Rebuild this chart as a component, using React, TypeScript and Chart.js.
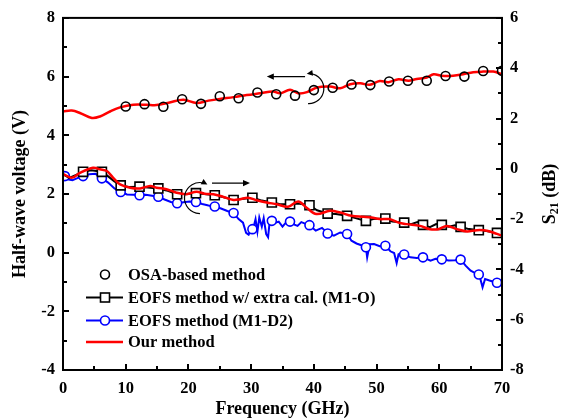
import React, { useEffect, useRef } from 'react';
import { Chart, registerables } from 'chart.js';
Chart.register(...registerables);

const FONT = '"Liberation Serif", "Times New Roman", serif';

// ---- Half-wave voltage (left axis, V) ----
const osaFreq = [10, 13, 16, 19, 22, 25, 28, 31, 34, 37, 40, 43, 46, 49, 52, 55, 58, 61, 64, 67, 70];
const osaVolt = [4.98, 5.06, 4.97, 5.23, 5.07, 5.33, 5.26, 5.46, 5.40, 5.35, 5.54, 5.62, 5.73, 5.71, 5.83, 5.86, 5.86, 6.02, 6.00, 6.19, 6.20];

const ourVFreq = [0, 1.4, 2.7, 4.6, 5.9, 7.5, 9.1, 11.2, 13.3, 14.9, 17, 19.2, 21.3, 23.2, 25, 27.2, 29.3, 31.4, 33.5, 34.6, 36.2, 37.5, 38.9, 40.5, 42.6, 44.2, 45.8, 47.4, 48.9, 50.5, 51.9, 53.5, 55.1, 56.4, 58, 59.1, 60.4, 62.2, 63.8, 65.4, 67, 68.6, 70];
const ourVVolt = [4.81, 4.84, 4.76, 4.59, 4.64, 4.81, 4.95, 5.04, 5.04, 5.03, 5.12, 5.21, 5.10, 5.18, 5.24, 5.30, 5.37, 5.43, 5.49, 5.43, 5.55, 5.43, 5.47, 5.63, 5.66, 5.60, 5.74, 5.77, 5.72, 5.85, 5.81, 5.91, 5.86, 5.92, 5.97, 6.08, 6.03, 6.03, 6.08, 6.15, 6.17, 6.17, 6.08];

// ---- S21 (right axis, dB) ----
const m1oMarkFreq = [3.2, 6.2, 9.2, 12.2, 15.2, 18.2, 21.2, 24.2, 27.2, 30.2, 33.3, 36.2, 39.3, 42.2, 45.3, 48.3, 51.4, 54.4, 57.4, 60.4, 63.4, 66.3, 69.2];
const m1oMarkS21 = [-0.12, -0.12, -0.66, -0.71, -0.78, -1.01, -0.97, -1.05, -1.24, -1.15, -1.34, -1.41, -1.45, -1.78, -1.87, -2.07, -1.98, -2.14, -2.23, -2.23, -2.31, -2.44, -2.55];

const m1oFreq = [0, 1, 2, 3.2, 4.5, 6.2, 7.2, 8.2, 9.2, 10.5, 12.2, 13.5, 15.2, 16.5, 18.2, 19.5, 21.2, 22.5, 24.2, 25.5, 27.2, 28.5, 30.2, 31.5, 33.3, 34.5, 36.2, 37.5, 39.3, 40.5, 42.2, 43.5, 45.3, 46.5, 48.3, 49.5, 51.4, 52.5, 54.4, 55.5, 56.5, 57.4, 58.5, 59.5, 60.4, 61.5, 62.5, 63.4, 64.5, 66.3, 67.5, 69.2, 70];
const m1oS21 = [-0.22, -0.36, -0.25, -0.12, -0.06, -0.12, -0.30, -0.50, -0.66, -0.72, -0.71, -0.74, -0.78, -0.86, -1.01, -1.00, -0.97, -1.00, -1.05, -1.12, -1.24, -1.20, -1.15, -1.25, -1.34, -1.40, -1.41, -1.38, -1.45, -1.65, -1.78, -1.80, -1.87, -1.95, -2.07, -2.00, -1.98, -2.10, -2.14, -2.20, -2.12, -2.23, -2.32, -2.20, -2.23, -2.30, -2.25, -2.31, -2.38, -2.44, -2.47, -2.55, -2.62];

const d2MarkFreq = [0.3, 3.2, 6.2, 9.2, 12.2, 15.2, 18.2, 21.2, 24.2, 27.2, 30.2, 33.3, 36.2, 39.3, 42.2, 45.3, 48.3, 51.4, 54.4, 57.4, 60.4, 63.4, 66.3, 69.2];
const d2MarkS21 = [-0.29, -0.29, -0.38, -0.92, -1.05, -1.11, -1.37, -1.32, -1.50, -1.76, -2.40, -2.07, -2.10, -2.24, -2.57, -2.59, -3.12, -3.06, -3.41, -3.52, -3.60, -3.61, -4.20, -4.53];

const d2Freq = [0, 0.7, 1.5, 2.5, 3.2, 4.2, 5.2, 6.2, 7.2, 8.2, 9.2, 10.2, 11.2, 12.2, 13.2, 14.2, 15.2, 16.2, 17.2, 18.2, 19.2, 20.2, 21.2, 22.2, 23.2, 24.2, 25.2, 26.2, 27.2, 28.0, 28.7, 29.2, 29.6, 30.0, 30.3, 30.7, 31.0, 31.3, 31.7, 32.0, 32.4, 32.7, 33.0, 33.3, 33.8, 34.4, 35.0, 35.6, 36.2, 36.9, 37.4, 38.0, 38.6, 39.3, 40.3, 41.3, 42.2, 43.2, 44.2, 45.3, 46.0, 46.8, 47.8, 48.3, 48.5, 48.9, 49.6, 50.5, 51.4, 52.2, 52.8, 53.2, 53.5, 54.0, 54.4, 55.4, 56.4, 57.4, 58.6, 59.4, 60.4, 61.5, 62.5, 63.4, 64.2, 65.0, 66.0, 66.5, 66.9, 67.3, 68.0, 69.2, 70];
const d2S21 = [-0.30, -0.42, -0.45, -0.35, -0.29, -0.22, -0.20, -0.38, -0.55, -0.78, -0.92, -1.02, -1.03, -1.05, -1.03, -1.07, -1.11, -1.22, -1.32, -1.37, -1.33, -1.30, -1.32, -1.40, -1.46, -1.50, -1.58, -1.68, -1.76, -2.00, -2.14, -2.55, -2.62, -2.40, -2.40, -2.00, -2.50, -1.94, -2.30, -1.96, -2.60, -2.72, -2.00, -2.07, -2.15, -2.10, -2.30, -2.12, -2.10, -2.22, -2.27, -2.12, -2.18, -2.24, -2.46, -2.35, -2.57, -2.66, -2.53, -2.59, -2.86, -2.97, -3.06, -3.12, -3.52, -3.00, -2.99, -3.08, -3.06, -3.28, -3.35, -3.75, -3.40, -3.35, -3.41, -3.52, -3.55, -3.52, -3.65, -3.58, -3.60, -3.65, -3.64, -3.61, -3.85, -4.05, -4.18, -4.33, -4.71, -4.38, -4.44, -4.53, -4.60];

const ourSFreq = [0, 1.4, 2.7, 4.8, 5.9, 7, 8, 9.1, 10.7, 12.3, 13.9, 14.9, 16.5, 18.1, 19.7, 21.3, 22.6, 24, 25.6, 27.2, 28.2, 29.5, 30.9, 32.5, 34.1, 35.9, 37.5, 38.9, 40.4, 42.6, 44.2, 46, 47.9, 49.2, 50.5, 52, 53.5, 54.8, 56.9, 58.5, 59.8, 61.2, 62.8, 64.4, 66, 67.6, 69.2, 70];
const ourSS21 = [-0.20, -0.36, -0.16, 0.04, -0.02, -0.09, -0.36, -0.62, -0.75, -0.78, -0.68, -0.75, -0.81, -0.95, -1.01, -0.91, -0.99, -1.01, -1.12, -1.24, -1.21, -1.15, -1.25, -1.34, -1.41, -1.51, -1.30, -1.56, -1.80, -1.67, -1.74, -1.87, -1.91, -1.94, -2.00, -2.00, -2.14, -2.20, -2.27, -2.40, -2.40, -2.27, -2.40, -2.49, -2.44, -2.46, -2.59, -2.66];

const xTicks = [0, 10, 20, 30, 40, 50, 60, 70];
const legendLabels = ['OSA-based method', 'EOFS method w/ extra cal. (M1-O)', 'EOFS method (M1-D2)', 'Our method'];
const xTitle = 'Frequency (GHz)';
const yLeftTitle = 'Half-wave voltage (V)';

const RED = '#ff0000';
const BLUE = '#0000ff';

const pts = (xs: number[], ys: number[]) => xs.map((x, i) => ({ x, y: ys[i] }));

function arrowHead(ctx: CanvasRenderingContext2D, x: number, y: number, ang: number, len = 7, half = 3.2) {
  ctx.save();
  ctx.translate(x, y);
  ctx.rotate(ang);
  ctx.beginPath();
  ctx.moveTo(0, 0);
  ctx.lineTo(-len, -half);
  ctx.lineTo(-len, half);
  ctx.closePath();
  ctx.fill();
  ctx.restore();
}

const overlay = {
  id: 'overlay',
  afterDraw(chart: any) {
    const { ctx, chartArea: a, scales } = chart;
    const sx = scales.x, yV = scales.yV, yS = scales.yS;
    ctx.save();
    ctx.strokeStyle = '#000';
    ctx.fillStyle = '#000';
    // frame
    ctx.lineWidth = 2;
    ctx.strokeRect(a.left, a.top, a.right - a.left, a.bottom - a.top);
    // inward ticks
    ctx.lineWidth = 2;
    ctx.beginPath();
    for (let v = 0; v <= 70; v += 5) {
      const p = Math.round(sx.getPixelForValue(v));
      const l = v % 10 === 0 ? 6 : 4;
      ctx.moveTo(p, a.bottom);
      ctx.lineTo(p, a.bottom - l);
    }
    for (let v = -4; v <= 8; v += 1) {
      const p = Math.round(yV.getPixelForValue(v));
      const l = v % 2 === 0 ? 6 : 4;
      ctx.moveTo(a.left, p);
      ctx.lineTo(a.left + l, p);
    }
    for (let v = -8; v <= 6; v += 1) {
      const p = Math.round(yS.getPixelForValue(v));
      const l = v % 2 === 0 ? 6 : 4;
      ctx.moveTo(a.right, p);
      ctx.lineTo(a.right - l, p);
    }
    ctx.stroke();

    // axis titles
    ctx.font = `bold 18px ${FONT}`;
    ctx.textAlign = 'center';
    ctx.textBaseline = 'middle';
    ctx.fillText(xTitle, (a.left + a.right) / 2, 409);
    const cy = (a.top + a.bottom) / 2;
    ctx.save();
    ctx.translate(20, cy);
    ctx.rotate(-Math.PI / 2);
    ctx.fillText(yLeftTitle, 0, 0);
    ctx.restore();
    // right title S21 (dB)
    ctx.save();
    ctx.translate(550, cy);
    ctx.rotate(-Math.PI / 2);
    ctx.textAlign = 'left';
    const big = `bold 18px ${FONT}`;
    const small = `bold 12px ${FONT}`;
    ctx.font = big; const wS = ctx.measureText('S').width;
    ctx.font = small; const w21 = ctx.measureText('21').width;
    ctx.font = big; const wRest = ctx.measureText(' (dB)').width;
    let xx = -(wS + w21 + wRest) / 2;
    ctx.font = big; ctx.fillText('S', xx, 0); xx += wS;
    ctx.font = small; ctx.fillText('21', xx, 5); xx += w21;
    ctx.font = big; ctx.fillText(' (dB)', xx, 0);
    ctx.restore();

    // legend
    const lx = a.left + 42;
    const rows = [274.5, 297.5, 320.5, 342];
    ctx.font = `bold 16.5px ${FONT}`;
    ctx.textAlign = 'left';
    ctx.textBaseline = 'middle';
    legendLabels.forEach((t, i) => ctx.fillText(t, a.left + 65, rows[i] + 1));
    // row 0: open circle
    ctx.lineWidth = 1.6;
    ctx.beginPath(); ctx.arc(lx, rows[0], 4.5, 0, Math.PI * 2); ctx.stroke();
    // row 1: black line + square
    ctx.lineWidth = 2;
    ctx.beginPath(); ctx.moveTo(lx - 19, rows[1]); ctx.lineTo(lx + 18, rows[1]); ctx.stroke();
    ctx.fillStyle = '#fff'; ctx.fillRect(lx - 4.5, rows[1] - 4.5, 9, 9);
    ctx.lineWidth = 1.6; ctx.strokeRect(lx - 4.5, rows[1] - 4.5, 9, 9);
    // row 2: blue line + circle
    ctx.strokeStyle = BLUE; ctx.lineWidth = 2;
    ctx.beginPath(); ctx.moveTo(lx - 19, rows[2]); ctx.lineTo(lx + 18, rows[2]); ctx.stroke();
    ctx.beginPath(); ctx.arc(lx, rows[2], 4.5, 0, Math.PI * 2); ctx.fill();
    ctx.lineWidth = 1.6; ctx.stroke();
    // row 3: red line
    ctx.strokeStyle = RED; ctx.lineWidth = 2.5;
    ctx.beginPath(); ctx.moveTo(lx - 19, rows[3]); ctx.lineTo(lx + 18, rows[3]); ctx.stroke();

    // annotations: arrows
    ctx.strokeStyle = '#000'; ctx.fillStyle = '#000'; ctx.lineWidth = 1.2;
    // upper: horizontal arrow pointing left (to V axis)
    const y1 = yV.getPixelForValue(6.0);
    const xa = sx.getPixelForValue(38.6), xb = sx.getPixelForValue(32.5);
    ctx.beginPath(); ctx.moveTo(xa, y1); ctx.lineTo(xb + 5, y1); ctx.stroke();
    arrowHead(ctx, xb, y1, Math.PI);
    // upper arc
    const c1x = sx.getPixelForValue(39.2), c1y = yV.getPixelForValue(5.59);
    const s1 = -98 * Math.PI / 180, e1 = 93 * Math.PI / 180;
    ctx.beginPath(); ctx.arc(c1x, c1y, 15, s1 + 0.25, e1, false); ctx.stroke();
    arrowHead(ctx, c1x + 15 * Math.cos(s1), c1y + 15 * Math.sin(s1), Math.PI - 0.15, 6, 3);
    // lower arc
    const c2x = sx.getPixelForValue(21.84), c2y = yV.getPixelForValue(1.86);
    const s2 = -61.5 * Math.PI / 180, e2 = 90 * Math.PI / 180;
    ctx.beginPath(); ctx.arc(c2x, c2y, 15.5, s2 - 0.25, e2, true); ctx.stroke();
    arrowHead(ctx, c2x + 15.5 * Math.cos(s2), c2y + 15.5 * Math.sin(s2), 0.5, 6, 3);
    // lower horizontal arrow pointing right (to S21 axis)
    const y2 = yV.getPixelForValue(2.37);
    const xc = sx.getPixelForValue(23.76), xd = sx.getPixelForValue(29.82);
    ctx.beginPath(); ctx.moveTo(xc, y2); ctx.lineTo(xd - 5, y2); ctx.stroke();
    arrowHead(ctx, xd, y2, 0);
    ctx.restore();
  },
};

export default function App() {
  const ref = useRef<HTMLCanvasElement>(null);
  useEffect(() => {
    document.body.style.margin = '0';
    const tickFont = { family: FONT, size: 16.5, weight: 'bold' as const };
    const chart = new Chart(ref.current!, {
      type: 'line',
      data: {
        datasets: [
          { label: 'OSA', data: pts(osaFreq, osaVolt), yAxisID: 'yV', showLine: false, pointStyle: 'circle', pointRadius: 4.5, pointBorderWidth: 1.6, borderColor: '#000', backgroundColor: 'rgba(0,0,0,0)', order: 1 },
          { label: 'OurV', data: pts(ourVFreq, ourVVolt), yAxisID: 'yV', borderColor: RED, borderWidth: 2.5, pointRadius: 0, tension: 0.35, order: 2 },
          { label: 'OurS', data: pts(ourSFreq, ourSS21), yAxisID: 'yS', borderColor: RED, borderWidth: 2.5, pointRadius: 0, tension: 0.35, order: 3 },
          { label: 'M1O marks', data: pts(m1oMarkFreq, m1oMarkS21), yAxisID: 'yS', showLine: false, pointStyle: 'rect', pointRadius: 6.4, pointBorderWidth: 1.6, borderColor: '#000', backgroundColor: '#fff', order: 4 },
          { label: 'M1O', data: pts(m1oFreq, m1oS21), yAxisID: 'yS', borderColor: '#000', borderWidth: 2, pointRadius: 0, tension: 0, order: 5 },
          { label: 'D2 marks', data: pts(d2MarkFreq, d2MarkS21), yAxisID: 'yS', showLine: false, pointStyle: 'circle', pointRadius: 4.5, pointBorderWidth: 1.6, borderColor: BLUE, backgroundColor: '#fff', order: 6 },
          { label: 'D2', data: pts(d2Freq, d2S21), yAxisID: 'yS', borderColor: BLUE, borderWidth: 2, pointRadius: 0, tension: 0, order: 7 },
        ],
      },
      options: {
        animation: false,
        responsive: false,
        layout: { padding: { top: 16, left: 0, right: 0, bottom: 0 } },
        plugins: { legend: { display: false }, tooltip: { enabled: false } },
        scales: {
          x: {
            type: 'linear', min: 0, max: 70,
            afterBuildTicks: (s: any) => { s.ticks = xTicks.map((v) => ({ value: v })); },
            afterFit: (s: any) => { s.height = 50; },
            grid: { display: false, drawTicks: false },
            border: { display: false },
            ticks: { font: tickFont, color: '#000', padding: 9, maxRotation: 0 },
          },
          yV: {
            type: 'linear', position: 'left', min: -4, max: 8,
            afterFit: (s: any) => { s.width = 63; },
            grid: { display: false, drawTicks: false },
            border: { display: false },
            ticks: { font: tickFont, color: '#000', padding: 8, stepSize: 2 },
          },
          yS: {
            type: 'linear', position: 'right', min: -8, max: 6,
            afterFit: (s: any) => { s.width = 59; },
            grid: { display: false, drawTicks: false },
            border: { display: false },
            ticks: { font: tickFont, color: '#000', padding: 8, stepSize: 2 },
          },
        },
      },
      plugins: [overlay],
    });
    return () => chart.destroy();
  }, []);
  return (
    <div style={{ width: 561, height: 420, background: '#fff' }}>
      <canvas ref={ref} width={561} height={420} />
    </div>
  );
}
